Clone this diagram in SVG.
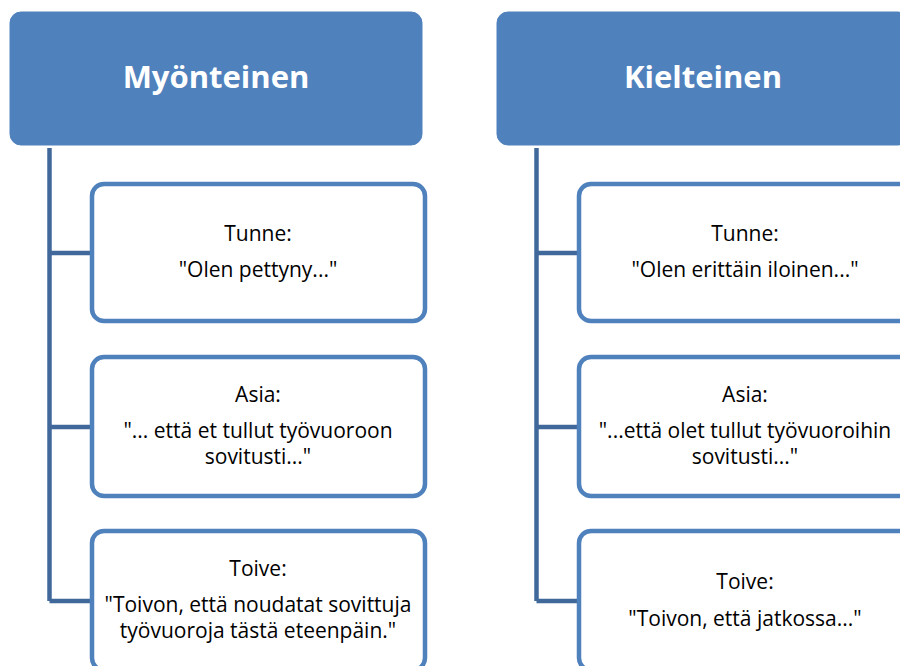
<svg xmlns="http://www.w3.org/2000/svg" width="900" height="666" viewBox="0 0 900 666">
<style>
.hdr{fill:#4F81BD;stroke:#4F81BD;stroke-width:1}
.box{fill:#FFFFFF;stroke:#4F81BD;stroke-width:4.5}
.conn{fill:none;stroke:#41689A;stroke-width:4.5;stroke-linejoin:miter}
.title{font-family:"Open Sans","Liberation Sans",sans-serif;font-weight:bold;font-size:31px;fill:#FFFFFF;text-anchor:middle}
.t{font-family:"Open Sans","Liberation Sans",sans-serif;font-size:21px;fill:#000000;text-anchor:middle}
</style>
<rect width="900" height="666" fill="#FFFFFF"/>
<g id="connectors">
<path class="conn" d="M49.5,148 V601 M49.5,253 H92 M49.5,427 H92 M49.5,601 H92"/>
<path class="conn" d="M536.5,148 V601 M536.5,253 H579 M536.5,427 H579 M536.5,601 H579"/>
</g>
<g id="myonteinen">
<rect class="hdr" x="10" y="12" width="412" height="133" rx="11"/>
<text class="title" x="216" y="88">Myönteinen</text>
</g>
<g id="kielteinen">
<rect class="hdr" x="497" y="12" width="412" height="133" rx="11"/>
<text class="title" x="703" y="88">Kielteinen</text>
</g>
<g id="left-tunne">
<rect class="box" x="92" y="184" width="333" height="137" rx="12"/>
<text class="t" x="258" y="241">Tunne:</text>
<text class="t" x="258" y="277">"Olen pettyny..."</text>
</g>
<g id="left-asia">
<rect class="box" x="92" y="357" width="333" height="139" rx="12"/>
<text class="t" x="258" y="402">Asia:</text>
<text class="t" x="258" y="438">"... että et tullut työvuoroon</text>
<text class="t" x="258" y="464">sovitusti..."</text>
</g>
<g id="left-toive">
<rect class="box" x="92" y="531" width="333" height="139" rx="12"/>
<text class="t" x="258" y="576">Toive:</text>
<text class="t" x="258" y="612">"Toivon, että noudatat sovittuja</text>
<text class="t" x="258" y="638">työvuoroja tästä eteenpäin."</text>
</g>
<g id="right-tunne">
<rect class="box" x="579" y="184" width="333" height="137" rx="12"/>
<text class="t" x="745" y="241">Tunne:</text>
<text class="t" x="745" y="277">"Olen erittäin iloinen..."</text>
</g>
<g id="right-asia">
<rect class="box" x="579" y="357" width="333" height="139" rx="12"/>
<text class="t" x="745" y="402">Asia:</text>
<text class="t" x="745" y="438">"...että olet tullut työvuoroihin</text>
<text class="t" x="745" y="464">sovitusti..."</text>
</g>
<g id="right-toive">
<rect class="box" x="579" y="531" width="333" height="139" rx="12"/>
<text class="t" x="745" y="589">Toive:</text>
<text class="t" x="745" y="626">"Toivon, että jatkossa..."</text>
</g>
</svg>
